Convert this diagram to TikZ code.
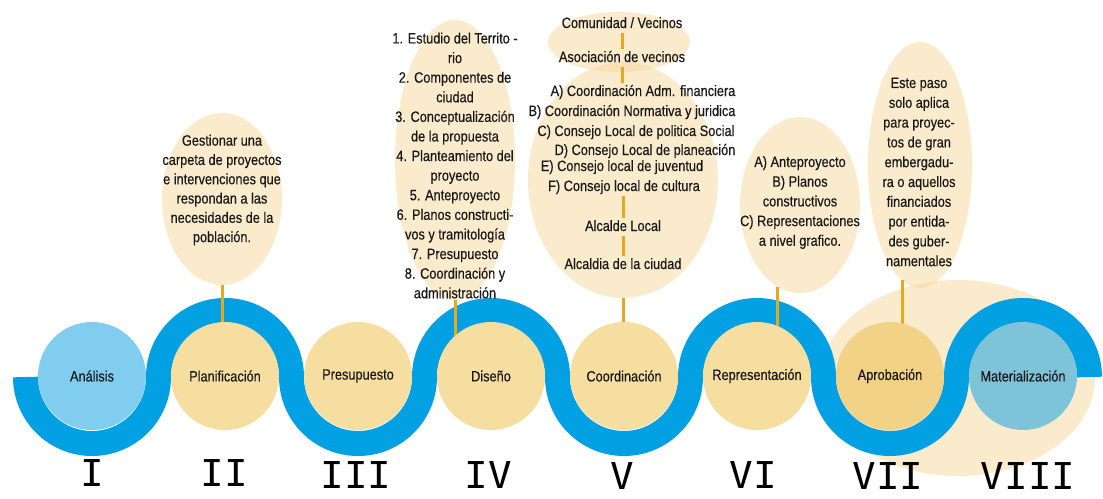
\documentclass[tikz,border=0pt]{standalone}
\usepackage{fontspec}
\setmainfont{Liberation Sans}[FakeStretch=0.85,FakeBold=0.4]
\newfontfamily\numfont{DejaVu Sans Mono}[FakeStretch=1.06]
\usetikzlibrary{shapes.geometric}
\definecolor{cband}{RGB}{0,160,227}
\definecolor{cblue}{RGB}{128,205,240}
\definecolor{cteal}{RGB}{126,196,217}
\definecolor{cbeige}{RGB}{246,222,160}
\definecolor{capro}{RGB}{242,210,135}
\definecolor{ccall}{RGB}{247,217,157}
\definecolor{corange}{RGB}{232,168,30}
\definecolor{ctxt}{RGB}{25,25,25}
\begin{document}
\begin{tikzpicture}[x=1pt,y=-1pt,
  stage/.style={circle,minimum size=108pt,inner sep=0pt,fill=cbeige,text=ctxt,font=\fontsize{15}{17}\selectfont},
  callout/.style={ellipse,fill=ccall,fill opacity=0.5,draw=none,inner sep=0pt},
  ctext/.style={align=center,text=ctxt,inner sep=0pt},
  cline/.style={text=ctxt,inner sep=1.5pt,text height=11pt,text depth=3pt,font=\fontsize{15}{18}\selectfont},
  conn/.style={draw=corange,line width=3pt},
  band/.style={draw=cband,line width=25pt,line cap=butt},
  numeral/.style={text=black,inner sep=0pt,font=\numfont\fontsize{37}{37}\selectfont}]
\useasboundingbox (0,0) rectangle (1103,498);
\fill[white] (0,0) rectangle (1103,498);
% background ellipse
\node[callout,minimum width=274pt,minimum height=196pt] (bg) at (958,378) {};
% callout ellipses
\node[callout,minimum width=120pt,minimum height=172pt] (k2) at (222,199) {};
\node[callout,minimum width=120pt,minimum height=280pt] (k4) at (455,160) {};
\node[callout,minimum width=142pt,minimum height=60pt] (k5a) at (619,42) {};
\node[callout,minimum width=190pt,minimum height=236pt] (k5) at (623,180) {};
\node[callout,minimum width=120pt,minimum height=176pt] (k6) at (800,205) {};
\node[callout,minimum width=104pt,minimum height=246pt] (k7) at (920,165) {};
% wave band
\draw[band] (25.5,377)
  arc[start angle=180,end angle=0,radius=66.5]
  arc[start angle=180,end angle=360,radius=66.5]
  arc[start angle=180,end angle=0,radius=66.5]
  arc[start angle=180,end angle=360,radius=66.5]
  arc[start angle=180,end angle=0,radius=66.5]
  arc[start angle=180,end angle=360,radius=66.5]
  arc[start angle=180,end angle=0,radius=66.5]
  arc[start angle=180,end angle=360,radius=66.5];
% connector end coordinates
\coordinate (k6c) at (777,287);
\coordinate (k7c) at (902,280);
% texts of callouts
\node[ctext,font=\fontsize{15}{19.3}\selectfont] (t2) at (222,190) {Gestionar una\\carpeta de proyectos\\e intervenciones que\\respondan a las\\necesidades de la\\población.};
\node[ctext,font=\fontsize{15}{19.6}\selectfont] (t4) at (455,165.5) {1. Estudio del Territo -\\rio\\2. Componentes de\\ciudad\\3. Conceptualización\\de la propuesta\\4. Planteamiento del\\proyecto\\5. Anteproyecto\\6. Planos constructi-\\vos y tramitología\\7. Presupuesto\\8. Coordinación y\\administración};
\node[ctext,font=\fontsize{15}{19.7}\selectfont] (t6) at (800,202.5) {A) Anteproyecto\\B) Planos\\constructivos\\C) Representaciones\\a nivel grafico.};
\node[ctext,font=\fontsize{15}{19.8}\selectfont] (t7) at (919,172) {Este paso\\solo aplica\\para proyec-\\tos de gran\\embergadu-\\ra o aquellos\\financiados\\por entida-\\des guber-\\namentales};
\node[cline] (cCom) at (622,24) {Comunidad / Vecinos};
\node[cline] (cAso) at (622,58) {Asociación de vecinos};
\node[cline] (cA) at (643,92) {A) Coordinación Adm. financiera};
\node[cline] (cB) at (632,112) {B) Coordinación Normativa y juridica};
\node[cline] (cC) at (636,132) {C) Consejo Local de politica Social};
\node[cline] (cD) at (645,151) {D) Consejo Local de planeación};
\node[cline] (cE) at (622,167) {E) Consejo local de juventud};
\node[cline] (cF) at (624,187) {F) Consejo local de cultura};
\node[cline] (cAlc) at (623,227) {Alcalde Local};
\node[cline] (cAlcd) at (623,265) {Alcaldia de la ciudad};
% connectors
\draw[conn] (cCom.south) -- (cAso.north);
\draw[conn] (cAso.south) -- (cAso.south |- cA.north);
\draw[conn] (cAlc.north |- cF.south) -- (cAlc.north);
\draw[conn] (cAlc.south) -- (cAlcd.north);
\draw[conn] (k2.south) -- (k2.south |- 0,326);
\draw[conn] (k4.south) -- (k4.south |- 0,338);
\draw[conn] (k5.south) -- (k5.south |- 0,327);
\draw[conn] (k6c) -- (k6c |- 0,328);
\draw[conn] (k7c) -- (k7c |- 0,324);
% stage circles
\node[stage,fill=cblue] (s1) at (92,376) {Análisis};
\node[stage] (s2) at (225,376) {Planificación};
\node[stage] (s3) at (358,376) {Presupuesto};
\node[stage] (s4) at (491,376) {Diseño};
\node[stage] (s5) at (624,376) {Coordinación};
\node[stage] (s6) at (757,376) {Representación};
\node[stage,fill=capro] (s7) at (890,376) {Aprobación};
\node[stage,fill=cteal] (s8) at (1023,376) {Materialización};
% numerals
\node[numeral] (n1) at (92,473) {I};
\node[numeral] (n2) at (224,473) {II};
\node[numeral] (n3) at (356,475) {III};
\node[numeral] (n4) at (488,475) {IV};
\node[numeral] (n5) at (622,476) {V};
\node[numeral] (n6) at (753,475) {VI};
\node[numeral] (n7) at (888,476) {VII};
\node[numeral] (n8) at (1028,476) {VIII};
\end{tikzpicture}
\end{document}
